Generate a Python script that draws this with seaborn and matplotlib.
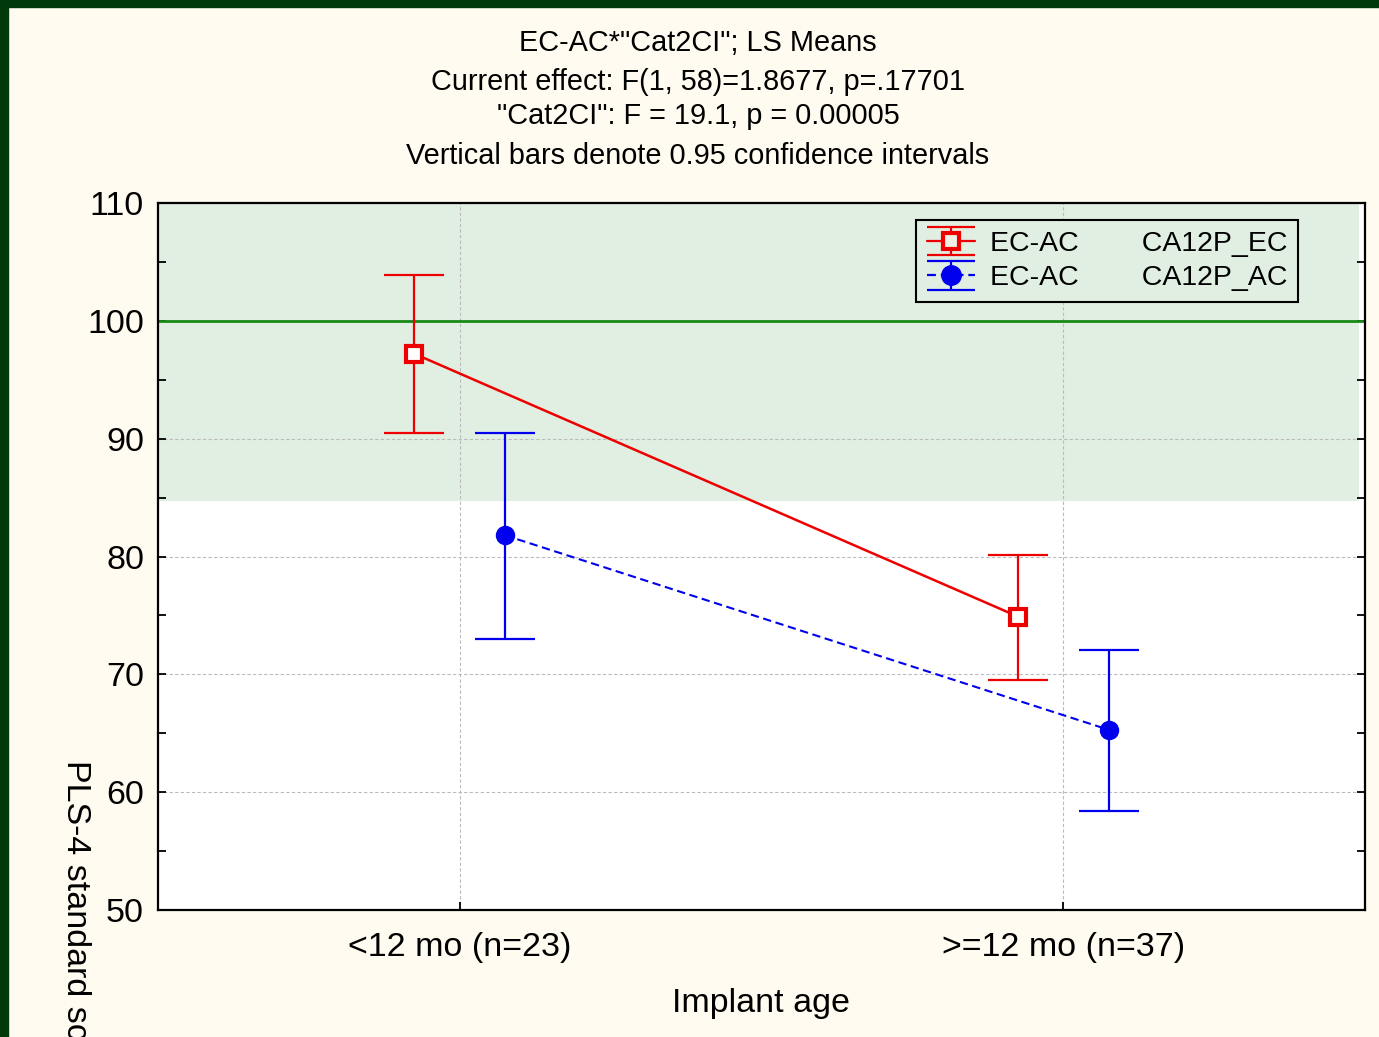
import matplotlib
matplotlib.use("Agg")
import matplotlib.pyplot as plt
import seaborn as sns
import numpy as np
import pandas as pd

# ---- data ----
categories = ["<12 mo (n=23)", ">=12 mo (n=37)"]
series_names = ["EC-AC        CA12P_EC", "EC-AC        CA12P_AC"]
ec_mean = [97.2, 74.9]
ec_lo = [90.5, 69.5]
ec_hi = [103.9, 80.1]
ac_mean = [81.8, 65.3]
ac_lo = [73.0, 58.4]
ac_hi = [90.5, 72.1]
title_lines = ['EC-AC*"Cat2CI"; LS Means',
               'Current effect: F(1, 58)=1.8677, p=.17701',
               '"Cat2CI": F = 19.1, p = 0.00005',
               'Vertical bars denote 0.95 confidence intervals']
yticks = [50, 60, 70, 80, 90, 100, 110]
band_lo, band_hi = 84.7, 110
ref_line = 100

sns.set_theme(style="white")
plt.rcParams['font.family'] = ['Liberation Sans', 'DejaVu Sans']
plt.rcParams['text.color'] = 'black'
plt.rcParams['legend.labelcolor'] = 'black'

bg = "#FFFBF0"
fig = plt.figure(figsize=(13.79, 10.37), dpi=100, facecolor=bg)
ax = fig.add_axes([158/1379, 1-910/1037, (1365-158)/1379, (910-203)/1037])
ax.set_facecolor("white")

# border
fig.patches.append(plt.Rectangle((0, 0), 8/1379, 1, transform=fig.transFigure,
                                 color="#003a0a", zorder=10))
fig.patches.append(plt.Rectangle((0, 1-7/1037), 1, 7/1037, transform=fig.transFigure,
                                 color="#003a0a", zorder=10))

off = 0.075
rows = []
for i, c in enumerate(categories):
    rows.append(dict(x=i - off, y=ec_mean[i], lo=ec_lo[i], hi=ec_hi[i], s=series_names[0]))
for i, c in enumerate(categories):
    rows.append(dict(x=i + off, y=ac_mean[i], lo=ac_lo[i], hi=ac_hi[i], s=series_names[1]))
df = pd.DataFrame(rows)

ax.axhspan(band_lo, band_hi, xmin=0, xmax=0.995, color="#E0EFE1", zorder=0, lw=0)
ax.axhline(ref_line, color="#178a17", lw=2, zorder=1)

colors = {series_names[0]: "#EE0000", series_names[1]: "#0000EE"}
dash = (0, (4, 2.2))
sns.lineplot(data=df[df.s == series_names[0]], x="x", y="y", color=colors[series_names[0]],
             lw=1.8, ax=ax, zorder=3, legend=False)
sns.lineplot(data=df[df.s == series_names[1]], x="x", y="y", color=colors[series_names[1]],
             lw=1.5, ax=ax, zorder=3, legend=False, dashes=False, linestyle=dash)

for name, mk, mfc, ms in [(series_names[0], "s", "white", 11),
                          (series_names[1], "o", colors[series_names[1]], 13)]:
    d = df[df.s == name]
    ax.errorbar(d.x, d.y, yerr=[d.y - d.lo, d.hi - d.y], fmt="none",
                ecolor=colors[name], elinewidth=1.6, capsize=21.6, capthick=1.6, zorder=4)
    ax.plot(d.x, d.y, linestyle="none", marker=mk, ms=ms, mfc=mfc, mec=colors[name],
            mew=3 if mk == "s" else 1, zorder=5)

# legend handles
h1 = ax.errorbar([np.nan], [np.nan], yerr=[[1], [1]], fmt="-s", color=colors[series_names[0]],
                 mfc="#EEF0E6", mec=colors[series_names[0]], ms=11, mew=3, capsize=17,
                 capthick=1.6, lw=1.6)
for cl in h1[1]:
    cl.set_markeredgewidth(1.6)
h2 = ax.errorbar([np.nan], [np.nan], yerr=[[1], [1]], fmt="o", color=colors[series_names[1]],
                 ms=14, capsize=17, capthick=1.6, lw=1.6)
h2[0].set_linestyle(dash)
leg = ax.legend([h1, h2], series_names, loc="upper right", bbox_to_anchor=((1298-158)/1207, 1-(220-203)/707),
                frameon=True, fontsize=20.5, facecolor="#E0EFE1", edgecolor="black",
                framealpha=1, fancybox=False, borderpad=0.38, labelspacing=0.3,
                handlelength=1.7, handletextpad=0.5, borderaxespad=0)
leg.get_frame().set_linewidth(1.5)

ax.set_xlim(-0.5, 1.5)
ax.set_ylim(50, 110)
ax.set_xticks(range(len(categories)))
ax.set_xticklabels(categories)
ax.set_yticks(yticks)
ax.set_yticks(np.arange(55, 110, 10), minor=True)
ax.tick_params(axis="both", which="both", direction="in", length=6, width=1.3, color="black",
               labelsize=24.5, labelcolor="black")
ax.tick_params(axis="y", which="both", right=True, left=True, pad=10)
ax.tick_params(axis="x", which="major", bottom=True, pad=16)
ax.grid(True, which="major", color="#bbbbbb", linestyle=(0, (3, 2)), lw=0.8)
ax.set_axisbelow(True)
for sp in ax.spines.values():
    sp.set_color("black")
    sp.set_linewidth(1.6)
    sp.set_visible(True)
ax.set_xlabel("Implant age", fontsize=24.5, color="black", labelpad=18)
ax.set_ylabel("")

fig.text(75/1379, 1-760/1037, "PLS-4 standard score", rotation=270, fontsize=24.5,
         ha="center", va="top", color="black")

ys = [43, 82, 116, 156]
for t, yy in zip(title_lines, ys):
    fig.text(698/1379, 1-yy/1037, t, ha="center", va="center", fontsize=20.8, color="black")

fig.savefig("out.png", dpi=100, facecolor=bg)
